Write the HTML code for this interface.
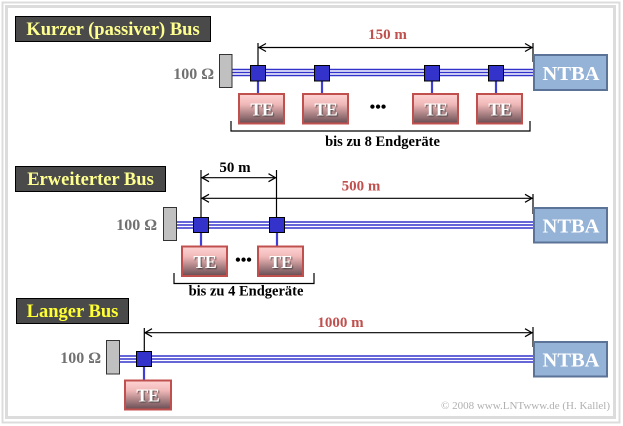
<!DOCTYPE html>
<html><head><meta charset="utf-8"><style>
html,body{margin:0;padding:0;background:#fff;}
svg{display:block;}
text{font-family:"Liberation Serif",serif;font-weight:bold;}
</style></head><body>
<svg width="623" height="426" viewBox="0 0 623 426" xmlns="http://www.w3.org/2000/svg">
<defs>
<linearGradient id="te" x1="0" y1="0" x2="0" y2="1">
<stop offset="0" stop-color="#ffd4d4"/>
<stop offset="0.35" stop-color="#f0b8b8"/>
<stop offset="1" stop-color="#664c52"/>
</linearGradient>
<filter id="sh" x="-20%" y="-20%" width="140%" height="140%">
<feDropShadow dx="1" dy="1" stdDeviation="0.6" flood-color="#333" flood-opacity="0.8"/>
</filter>
</defs>
<rect x="0" y="0" width="623" height="426" fill="#fff"/>
<!-- frame -->
<rect x="2.5" y="2.5" width="617" height="420" fill="none" stroke="#dcdcdc" stroke-width="2"/>
<rect x="6.5" y="6.5" width="608" height="411" fill="none" stroke="#dcdcdc" stroke-width="3"/>

<!-- ============ Section 1 ============ -->
<rect x="15.5" y="16.5" width="195" height="25" fill="#4a4a4a" stroke="#000"/>
<text x="113" y="35" font-size="18.5" fill="#ffff90" text-anchor="middle">Kurzer (passiver) Bus</text>

<text x="214" y="79" font-size="16" fill="#707070" text-anchor="end">100 Ω</text>
<!-- bus -->
<g stroke="#3333cc" stroke-width="1.6">
<line x1="232" y1="69.5" x2="535" y2="69.5"/>
<line x1="232" y1="72.5" x2="535" y2="72.5"/>
<line x1="232" y1="75.5" x2="535" y2="75.5"/>
</g>
<rect x="219.5" y="54.5" width="12.5" height="33" fill="#c0c0c0" stroke="#333"/>
<!-- stems -->
<g stroke="#3f3fd8" stroke-width="2.2">
<line x1="258" y1="81" x2="258" y2="94"/>
<line x1="322" y1="81" x2="322" y2="94"/>
<line x1="432" y1="81" x2="432" y2="94"/>
<line x1="496" y1="81" x2="496" y2="94"/>
</g>
<g fill="#3333cc" stroke="#000" stroke-width="1">
<rect x="250.5" y="65.5" width="15" height="15.5"/>
<rect x="314.5" y="65.5" width="15" height="15.5"/>
<rect x="424.5" y="65.5" width="15" height="15.5"/>
<rect x="488.5" y="65.5" width="15" height="15.5"/>
</g>
<g fill="url(#te)" stroke="#c0504d" stroke-width="2">
<rect x="239" y="94" width="45" height="29.5"/>
<rect x="303" y="94" width="45" height="29.5"/>
<rect x="413" y="94" width="45" height="29.5"/>
<rect x="477" y="94" width="45" height="29.5"/>
</g>
<g font-size="17.5" fill="#fff" text-anchor="middle" filter="url(#sh)">
<text x="262" y="115.5">TE</text>
<text x="326" y="115.5">TE</text>
<text x="436" y="115.5">TE</text>
<text x="500" y="115.5">TE</text>
</g>
<text x="378" y="112" font-size="16" fill="#000" text-anchor="middle">•••</text>
<!-- bracket -->
<polyline points="231,121 231,131 530,131 530,121" fill="none" stroke="#000" stroke-width="1.2"/>
<text x="382.5" y="146" font-size="14.5" fill="#000" text-anchor="middle">bis zu 8 Endgeräte</text>
<!-- dimension -->
<g stroke="#000" stroke-width="1.2" fill="none">
<line x1="258" y1="43" x2="258" y2="65"/>
<line x1="533" y1="43" x2="533" y2="62"/>
<line x1="258" y1="47.5" x2="533" y2="47.5"/>
<polyline points="266,43.5 259,47.5 266,51.5"/>
<polyline points="525,43.5 532,47.5 525,51.5"/>
</g>
<text x="387.5" y="39" font-size="15" fill="#c0504d" text-anchor="middle">150 m</text>
<rect x="534" y="55" width="73" height="35" fill="#95b3d7" stroke="#5b7397" stroke-width="2"/>
<text x="571" y="80" font-size="20.5" fill="#fff" text-anchor="middle">NTBA</text>

<!-- ============ Section 2 ============ -->
<rect x="15.5" y="166.5" width="150" height="25" fill="#4a4a4a" stroke="#000"/>
<text x="90.5" y="185" font-size="18.5" fill="#ffff90" text-anchor="middle">Erweiterter Bus</text>

<text x="157" y="230" font-size="16" fill="#707070" text-anchor="end">100 Ω</text>
<g stroke="#3333cc" stroke-width="1.6">
<line x1="177" y1="222" x2="535" y2="222"/>
<line x1="177" y1="225" x2="535" y2="225"/>
<line x1="177" y1="228" x2="535" y2="228"/>
</g>
<rect x="163.5" y="207.5" width="13" height="33" fill="#c0c0c0" stroke="#333"/>
<g stroke="#3f3fd8" stroke-width="2.2">
<line x1="201" y1="232" x2="201" y2="246"/>
<line x1="277" y1="232" x2="277" y2="246"/>
</g>
<g fill="#3333cc" stroke="#000" stroke-width="1">
<rect x="193.5" y="217.5" width="15" height="15"/>
<rect x="269.5" y="217.5" width="15" height="15"/>
</g>
<g fill="url(#te)" stroke="#c0504d" stroke-width="2">
<rect x="182" y="246.5" width="45" height="29.5"/>
<rect x="258" y="246.5" width="45" height="29.5"/>
</g>
<g font-size="17.5" fill="#fff" text-anchor="middle" filter="url(#sh)">
<text x="205" y="268">TE</text>
<text x="281" y="268">TE</text>
</g>
<text x="243.5" y="265" font-size="16" fill="#000" text-anchor="middle">•••</text>
<polyline points="174,273 174,283.5 314,283.5 314,273" fill="none" stroke="#000" stroke-width="1.2"/>
<text x="246" y="295.5" font-size="14.5" fill="#000" text-anchor="middle">bis zu 4 Endgeräte</text>
<g stroke="#000" stroke-width="1.2" fill="none">
<line x1="201" y1="170" x2="201" y2="217"/>
<line x1="276.5" y1="170" x2="276.5" y2="217"/>
<line x1="201" y1="177.7" x2="276.5" y2="177.7"/>
<polyline points="209,173.7 202,177.7 209,181.7"/>
<polyline points="268.5,173.7 275.5,177.7 268.5,181.7"/>
<line x1="533" y1="194" x2="533" y2="214"/>
<line x1="201" y1="198.3" x2="533" y2="198.3"/>
<polyline points="209,194.3 202,198.3 209,202.3"/>
<polyline points="525,194.3 532,198.3 525,202.3"/>
</g>
<text x="235" y="172" font-size="15" fill="#000" text-anchor="middle">50 m</text>
<text x="361" y="190.5" font-size="15" fill="#c0504d" text-anchor="middle">500 m</text>
<rect x="534" y="208" width="73" height="34.5" fill="#95b3d7" stroke="#5b7397" stroke-width="2"/>
<text x="571" y="232.5" font-size="20.5" fill="#fff" text-anchor="middle">NTBA</text>

<!-- ============ Section 3 ============ -->
<rect x="16.5" y="298.5" width="112" height="25" fill="#4a4a4a" stroke="#000"/>
<text x="72.5" y="317" font-size="18.5" fill="#ffff33" text-anchor="middle">Langer Bus</text>

<text x="101" y="363" font-size="16" fill="#707070" text-anchor="end">100 Ω</text>
<g stroke="#3333cc" stroke-width="1.6">
<line x1="119" y1="356" x2="535" y2="356"/>
<line x1="119" y1="359" x2="535" y2="359"/>
<line x1="119" y1="362" x2="535" y2="362"/>
</g>
<rect x="106.5" y="340.5" width="13" height="33.5" fill="#c0c0c0" stroke="#333"/>
<line x1="144" y1="366" x2="144" y2="380" stroke="#3f3fd8" stroke-width="2.2"/>
<rect x="136.5" y="351.5" width="15" height="15" fill="#3333cc" stroke="#000"/>
<rect x="125" y="380.5" width="46" height="29" fill="url(#te)" stroke="#c0504d" stroke-width="2"/>
<text x="148" y="401.5" font-size="17.5" fill="#fff" text-anchor="middle" filter="url(#sh)">TE</text>
<g stroke="#000" stroke-width="1.2" fill="none">
<line x1="144.3" y1="328" x2="144.3" y2="351"/>
<line x1="533" y1="327" x2="533" y2="347"/>
<line x1="144.3" y1="332.7" x2="533" y2="332.7"/>
<polyline points="152,328.7 145,332.7 152,336.7"/>
<polyline points="525,328.7 532,332.7 525,336.7"/>
</g>
<text x="340.5" y="327" font-size="15" fill="#c0504d" text-anchor="middle">1000 m</text>
<rect x="534" y="342" width="73" height="34.5" fill="#95b3d7" stroke="#5b7397" stroke-width="2"/>
<text x="571" y="366.5" font-size="20.5" fill="#fff" text-anchor="middle">NTBA</text>

<text x="610" y="409" font-size="11" fill="#b0b0b0" text-anchor="end" style="font-weight:normal">© 2008 www.LNTwww.de (H. Kallel)</text>
</svg>
</body></html>
